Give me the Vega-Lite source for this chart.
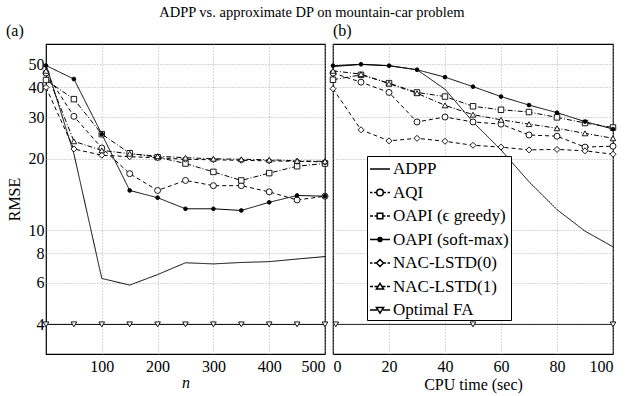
{
  "$schema": "https://vega.github.io/schema/vega-lite/v6.json",
  "padding": {"left": 5, "top": 4, "right": 30, "bottom": 8},
  "background": "white",
  "bounds": "flush",
  "spacing": 8,
  "title": {"text": "ADPP vs. approximate DP on mountain-car problem", "font": "Liberation Serif", "fontSize": 14.5, "fontWeight": "normal", "color": "black", "anchor": "middle", "offset": 2},
  "config": {
    "view": {"stroke": "black", "strokeWidth": 1.2},
    "axis": {"labelFont": "Liberation Serif", "labelFontSize": 16, "labelColor": "black", "titleFont": "Liberation Serif", "titleFontSize": 16, "titleFontWeight": "normal", "titleColor": "black", "grid": true, "gridColor": "#9a9a9a", "gridDash": [1, 2], "gridWidth": 0.8, "ticks": false, "domain": false},
    "legend": {"strokeColor": "black", "fillColor": "white", "padding": 2, "labelFont": "Liberation Serif", "labelFontSize": 17, "labelColor": "black", "labelOffset": 2, "symbolSize": 400, "rowPadding": 4.5}
  },
  "datasets": {
    "a": [
      {"s": "ADPP", "x": 0, "y": 50}, {"s": "ADPP", "x": 50, "y": 21}, {"s": "ADPP", "x": 100, "y": 6.25}, {"s": "ADPP", "x": 150, "y": 5.86}, {"s": "ADPP", "x": 200, "y": 6.49}, {"s": "ADPP", "x": 250, "y": 7.28}, {"s": "ADPP", "x": 300, "y": 7.2}, {"s": "ADPP", "x": 350, "y": 7.3}, {"s": "ADPP", "x": 400, "y": 7.36}, {"s": "ADPP", "x": 450, "y": 7.55}, {"s": "ADPP", "x": 500, "y": 7.73},
      {"s": "AQI", "x": 0, "y": 46}, {"s": "AQI", "x": 50, "y": 30.2}, {"s": "AQI", "x": 100, "y": 22.2}, {"s": "AQI", "x": 150, "y": 17.3}, {"s": "AQI", "x": 200, "y": 14.7}, {"s": "AQI", "x": 250, "y": 16.2}, {"s": "AQI", "x": 300, "y": 15.4}, {"s": "AQI", "x": 350, "y": 15.4}, {"s": "AQI", "x": 400, "y": 14.5}, {"s": "AQI", "x": 450, "y": 13.4}, {"s": "AQI", "x": 500, "y": 13.9},
      {"s": "OAPI (ϵ greedy)", "x": 0, "y": 43}, {"s": "OAPI (ϵ greedy)", "x": 50, "y": 35.7}, {"s": "OAPI (ϵ greedy)", "x": 100, "y": 25.4}, {"s": "OAPI (ϵ greedy)", "x": 150, "y": 21.1}, {"s": "OAPI (ϵ greedy)", "x": 200, "y": 20.3}, {"s": "OAPI (ϵ greedy)", "x": 250, "y": 19.1}, {"s": "OAPI (ϵ greedy)", "x": 300, "y": 17.6}, {"s": "OAPI (ϵ greedy)", "x": 350, "y": 16.2}, {"s": "OAPI (ϵ greedy)", "x": 400, "y": 17.4}, {"s": "OAPI (ϵ greedy)", "x": 450, "y": 18.6}, {"s": "OAPI (ϵ greedy)", "x": 500, "y": 19.1},
      {"s": "OAPI (soft-max)", "x": 0, "y": 49.5}, {"s": "OAPI (soft-max)", "x": 50, "y": 43.4}, {"s": "OAPI (soft-max)", "x": 100, "y": 25.4}, {"s": "OAPI (soft-max)", "x": 150, "y": 14.7}, {"s": "OAPI (soft-max)", "x": 200, "y": 13.7}, {"s": "OAPI (soft-max)", "x": 250, "y": 12.3}, {"s": "OAPI (soft-max)", "x": 300, "y": 12.3}, {"s": "OAPI (soft-max)", "x": 350, "y": 12.1}, {"s": "OAPI (soft-max)", "x": 400, "y": 13.1}, {"s": "OAPI (soft-max)", "x": 450, "y": 14.0}, {"s": "OAPI (soft-max)", "x": 500, "y": 13.9},
      {"s": "NAC-LSTD(0)", "x": 0, "y": 40}, {"s": "NAC-LSTD(0)", "x": 50, "y": 22.0}, {"s": "NAC-LSTD(0)", "x": 100, "y": 20.7}, {"s": "NAC-LSTD(0)", "x": 150, "y": 20.4}, {"s": "NAC-LSTD(0)", "x": 200, "y": 20.2}, {"s": "NAC-LSTD(0)", "x": 250, "y": 19.9}, {"s": "NAC-LSTD(0)", "x": 300, "y": 19.8}, {"s": "NAC-LSTD(0)", "x": 350, "y": 19.7}, {"s": "NAC-LSTD(0)", "x": 400, "y": 19.6}, {"s": "NAC-LSTD(0)", "x": 450, "y": 19.5}, {"s": "NAC-LSTD(0)", "x": 500, "y": 19.4},
      {"s": "NAC-LSTD(1)", "x": 0, "y": 47}, {"s": "NAC-LSTD(1)", "x": 50, "y": 23.7}, {"s": "NAC-LSTD(1)", "x": 100, "y": 21.7}, {"s": "NAC-LSTD(1)", "x": 150, "y": 21.0}, {"s": "NAC-LSTD(1)", "x": 200, "y": 20.5}, {"s": "NAC-LSTD(1)", "x": 250, "y": 20.2}, {"s": "NAC-LSTD(1)", "x": 300, "y": 20.0}, {"s": "NAC-LSTD(1)", "x": 350, "y": 19.9}, {"s": "NAC-LSTD(1)", "x": 400, "y": 19.8}, {"s": "NAC-LSTD(1)", "x": 450, "y": 19.6}, {"s": "NAC-LSTD(1)", "x": 500, "y": 19.5},
      {"s": "Optimal FA", "x": 0, "y": 4}, {"s": "Optimal FA", "x": 50, "y": 4}, {"s": "Optimal FA", "x": 100, "y": 4}, {"s": "Optimal FA", "x": 150, "y": 4}, {"s": "Optimal FA", "x": 200, "y": 4}, {"s": "Optimal FA", "x": 250, "y": 4}, {"s": "Optimal FA", "x": 300, "y": 4}, {"s": "Optimal FA", "x": 350, "y": 4}, {"s": "Optimal FA", "x": 400, "y": 4}, {"s": "Optimal FA", "x": 450, "y": 4}, {"s": "Optimal FA", "x": 500, "y": 4}
    ],
    "b": [
      {"s": "ADPP", "x": 0, "y": 49}, {"s": "ADPP", "x": 10, "y": 50}, {"s": "ADPP", "x": 20, "y": 49.4}, {"s": "ADPP", "x": 30, "y": 47.5}, {"s": "ADPP", "x": 40, "y": 39.3}, {"s": "ADPP", "x": 50, "y": 28.6}, {"s": "ADPP", "x": 60, "y": 21.8}, {"s": "ADPP", "x": 70, "y": 16.0}, {"s": "ADPP", "x": 80, "y": 12.2}, {"s": "ADPP", "x": 90, "y": 9.9}, {"s": "ADPP", "x": 100, "y": 8.5},
      {"s": "AQI", "x": 0, "y": 46}, {"s": "AQI", "x": 10, "y": 42.1}, {"s": "AQI", "x": 20, "y": 38.1}, {"s": "AQI", "x": 30, "y": 28.6}, {"s": "AQI", "x": 40, "y": 30.0}, {"s": "AQI", "x": 50, "y": 28.6}, {"s": "AQI", "x": 60, "y": 28.0}, {"s": "AQI", "x": 70, "y": 25.2}, {"s": "AQI", "x": 80, "y": 24.9}, {"s": "AQI", "x": 90, "y": 22.4}, {"s": "AQI", "x": 100, "y": 22.6},
      {"s": "OAPI (ϵ greedy)", "x": 0, "y": 43.1}, {"s": "OAPI (ϵ greedy)", "x": 10, "y": 45.2}, {"s": "OAPI (ϵ greedy)", "x": 20, "y": 41.7}, {"s": "OAPI (ϵ greedy)", "x": 30, "y": 38.1}, {"s": "OAPI (ϵ greedy)", "x": 40, "y": 36.6}, {"s": "OAPI (ϵ greedy)", "x": 50, "y": 33.3}, {"s": "OAPI (ϵ greedy)", "x": 60, "y": 32.2}, {"s": "OAPI (ϵ greedy)", "x": 70, "y": 31.5}, {"s": "OAPI (ϵ greedy)", "x": 80, "y": 29.9}, {"s": "OAPI (ϵ greedy)", "x": 90, "y": 28.3}, {"s": "OAPI (ϵ greedy)", "x": 100, "y": 27.1},
      {"s": "OAPI (soft-max)", "x": 0, "y": 49.4}, {"s": "OAPI (soft-max)", "x": 10, "y": 50.1}, {"s": "OAPI (soft-max)", "x": 20, "y": 49.4}, {"s": "OAPI (soft-max)", "x": 30, "y": 47.5}, {"s": "OAPI (soft-max)", "x": 40, "y": 44.2}, {"s": "OAPI (soft-max)", "x": 50, "y": 40.3}, {"s": "OAPI (soft-max)", "x": 60, "y": 36.6}, {"s": "OAPI (soft-max)", "x": 70, "y": 33.7}, {"s": "OAPI (soft-max)", "x": 80, "y": 31.3}, {"s": "OAPI (soft-max)", "x": 90, "y": 28.7}, {"s": "OAPI (soft-max)", "x": 100, "y": 26.7},
      {"s": "NAC-LSTD(0)", "x": 0, "y": 39.5}, {"s": "NAC-LSTD(0)", "x": 10, "y": 26.5}, {"s": "NAC-LSTD(0)", "x": 20, "y": 23.8}, {"s": "NAC-LSTD(0)", "x": 30, "y": 24.4}, {"s": "NAC-LSTD(0)", "x": 40, "y": 23.7}, {"s": "NAC-LSTD(0)", "x": 50, "y": 22.8}, {"s": "NAC-LSTD(0)", "x": 60, "y": 22.4}, {"s": "NAC-LSTD(0)", "x": 70, "y": 21.8}, {"s": "NAC-LSTD(0)", "x": 80, "y": 21.9}, {"s": "NAC-LSTD(0)", "x": 90, "y": 21.6}, {"s": "NAC-LSTD(0)", "x": 100, "y": 20.9},
      {"s": "NAC-LSTD(1)", "x": 0, "y": 47}, {"s": "NAC-LSTD(1)", "x": 10, "y": 45.5}, {"s": "NAC-LSTD(1)", "x": 20, "y": 41.5}, {"s": "NAC-LSTD(1)", "x": 30, "y": 37.8}, {"s": "NAC-LSTD(1)", "x": 40, "y": 33.6}, {"s": "NAC-LSTD(1)", "x": 50, "y": 30.7}, {"s": "NAC-LSTD(1)", "x": 60, "y": 29.2}, {"s": "NAC-LSTD(1)", "x": 70, "y": 28.0}, {"s": "NAC-LSTD(1)", "x": 80, "y": 26.9}, {"s": "NAC-LSTD(1)", "x": 90, "y": 25.6}, {"s": "NAC-LSTD(1)", "x": 100, "y": 24.4},
      {"s": "Optimal FA", "x": 1, "y": 4}, {"s": "Optimal FA", "x": 50, "y": 4}, {"s": "Optimal FA", "x": 100, "y": 4}
    ]
  },
  "resolve": {"scale": {"x": "independent", "y": "shared", "shape": "independent"}, "legend": {"shape": "independent"}},
  "hconcat": [
    {
      "width": 279, "height": 310,
      "title": {"text": "(a)", "font": "Liberation Serif", "fontSize": 16, "fontWeight": "normal", "color": "black", "anchor": "start", "frame": "bounds", "offset": 5},
      "data": {"name": "a"},
      "encoding": {
        "x": {"field": "x", "type": "quantitative", "scale": {"domain": [0, 500], "nice": false}, "axis": {"values": [100, 200, 300, 400, 500], "title": "n", "titleFontStyle": "italic", "titlePadding": 0, "labelPadding": 4}},
        "y": {"field": "y", "type": "quantitative", "scale": {"type": "log", "domain": [3, 61], "nice": false}, "axis": {"values": [4, 6, 8, 10, 20, 30, 40, 50], "title": "RMSE", "titlePadding": 6, "labelPadding": 2}}
      },
      "layer": [
        {
          "mark": {"type": "line", "color": "black", "strokeWidth": 1},
          "encoding": {
            "strokeDash": {"field": "s", "type": "nominal", "legend": null, "scale": {"domain": ["ADPP", "AQI", "OAPI (ϵ greedy)", "OAPI (soft-max)", "NAC-LSTD(0)", "NAC-LSTD(1)", "Optimal FA"], "range": [[1, 0], [4, 3], [5, 2, 1, 2], [1, 0], [4, 3], [5, 2, 1, 2], [1, 0]]}}
          }
        },
        {"transform": [{"filter": "datum.s === 'AQI'"}], "mark": {"type": "point", "shape": "circle", "filled": true, "fill": "white", "stroke": "black", "strokeWidth": 0.9, "size": 36, "opacity": 1}, "encoding": {}},
        {"transform": [{"filter": "datum.s === 'OAPI (ϵ greedy)'"}], "mark": {"type": "point", "shape": "square", "filled": true, "fill": "white", "stroke": "black", "strokeWidth": 0.9, "size": 30, "opacity": 1}, "encoding": {}},
        {"transform": [{"filter": "datum.s === 'OAPI (soft-max)'"}], "mark": {"type": "point", "shape": "circle", "filled": true, "fill": "black", "stroke": "black", "strokeWidth": 0.9, "size": 14, "opacity": 1}, "encoding": {}},
        {"transform": [{"filter": "datum.s === 'NAC-LSTD(0)'"}], "mark": {"type": "point", "shape": "diamond", "filled": true, "fill": "white", "stroke": "black", "strokeWidth": 0.9, "size": 36, "opacity": 1}, "encoding": {}},
        {"transform": [{"filter": "datum.s === 'NAC-LSTD(1)'"}], "mark": {"type": "point", "shape": "triangle-up", "filled": true, "fill": "white", "stroke": "black", "strokeWidth": 0.9, "size": 32, "opacity": 1}, "encoding": {}},
        {"transform": [{"filter": "datum.s === 'Optimal FA'"}], "mark": {"type": "point", "shape": "triangle-down", "filled": true, "fill": "white", "stroke": "black", "strokeWidth": 0.9, "size": 32, "opacity": 1}, "encoding": {}}
      ]
    },
    {
      "width": 280, "height": 310,
      "title": {"text": "(b)", "font": "Liberation Serif", "fontSize": 16, "fontWeight": "normal", "color": "black", "anchor": "start", "frame": "group", "offset": 5},
      "data": {"name": "b"},
      "encoding": {
        "x": {"field": "x", "type": "quantitative", "scale": {"domain": [0, 100], "nice": false}, "axis": {"values": [0, 20, 40, 60, 80, 100], "title": "CPU time (sec)", "titlePadding": 2, "labelPadding": 4}},
        "y": {"field": "y", "type": "quantitative", "axis": {"values": [4, 6, 8, 10, 20, 30, 40, 50], "labels": false, "title": null}}
      },
      "layer": [
        {
          "mark": {"type": "line", "color": "black", "strokeWidth": 1},
          "encoding": {
            "strokeDash": {"field": "s", "type": "nominal", "legend": null, "scale": {"domain": ["ADPP", "AQI", "OAPI (ϵ greedy)", "OAPI (soft-max)", "NAC-LSTD(0)", "NAC-LSTD(1)", "Optimal FA"], "range": [[1, 0], [4, 3], [5, 2, 1, 2], [1, 0], [4, 3], [5, 2, 1, 2], [1, 0]]}}
          }
        },
        {"transform": [{"filter": "datum.s === 'AQI'"}], "mark": {"type": "point", "shape": "circle", "filled": true, "fill": "white", "stroke": "black", "strokeWidth": 0.9, "size": 36, "opacity": 1}, "encoding": {}},
        {"transform": [{"filter": "datum.s === 'OAPI (ϵ greedy)'"}], "mark": {"type": "point", "shape": "square", "filled": true, "fill": "white", "stroke": "black", "strokeWidth": 0.9, "size": 30, "opacity": 1}, "encoding": {}},
        {"transform": [{"filter": "datum.s === 'OAPI (soft-max)'"}], "mark": {"type": "point", "shape": "circle", "filled": true, "fill": "black", "stroke": "black", "strokeWidth": 0.9, "size": 14, "opacity": 1}, "encoding": {}},
        {"transform": [{"filter": "datum.s === 'NAC-LSTD(0)'"}], "mark": {"type": "point", "shape": "diamond", "filled": true, "fill": "white", "stroke": "black", "strokeWidth": 0.9, "size": 36, "opacity": 1}, "encoding": {}},
        {"transform": [{"filter": "datum.s === 'NAC-LSTD(1)'"}], "mark": {"type": "point", "shape": "triangle-up", "filled": true, "fill": "white", "stroke": "black", "strokeWidth": 0.9, "size": 32, "opacity": 1}, "encoding": {}},
        {"transform": [{"filter": "datum.s === 'Optimal FA'"}], "mark": {"type": "point", "shape": "triangle-down", "filled": true, "fill": "white", "stroke": "black", "strokeWidth": 0.9, "size": 32, "opacity": 1}, "encoding": {}},
        {
          "transform": [{"filter": "datum.x < 0"}],
          "mark": {"type": "point", "filled": false, "color": "black", "strokeWidth": 1, "opacity": 1},
          "encoding": {
            "shape": {"field": "s", "type": "nominal", "title": null,
              "legend": {"orient": "bottom-left", "offset": 34},
              "scale": {"domain": ["ADPP", "AQI", "OAPI (ϵ greedy)", "OAPI (soft-max)", "NAC-LSTD(0)", "NAC-LSTD(1)", "Optimal FA"],
                "range": [
                  "M-1,0L1,0",
                  "M-1,0L-0.75,0M-0.6,0L-0.33,0M0.33,0L0.6,0M0.75,0L1,0M-0.33,0A0.33,0.33,0,1,0,0.33,0A0.33,0.33,0,1,0,-0.33,0Z",
                  "M-1,0L-0.7,0M-0.55,0L-0.28,0M0.28,0L0.55,0M0.7,0L1,0M-0.28,-0.28L0.28,-0.28L0.28,0.28L-0.28,0.28Z",
                  "M-1,0L-0.2,0M0.2,0L1,0M-0.2,0A0.2,0.2,0,1,0,0.2,0A0.2,0.2,0,1,0,-0.2,0ZM-0.12,0A0.12,0.12,0,1,0,0.12,0A0.12,0.12,0,1,0,-0.12,0ZM-0.05,0A0.05,0.05,0,1,0,0.05,0A0.05,0.05,0,1,0,-0.05,0Z",
                  "M-1,0L-0.75,0M-0.6,0L-0.35,0M0.35,0L0.6,0M0.75,0L1,0M-0.35,0L0,-0.35L0.35,0L0,0.35Z",
                  "M-1,0L-0.7,0M-0.55,0L-0.22,0M0.22,0L0.55,0M0.7,0L1,0M0,-0.32L0.36,0.25L-0.36,0.25Z",
                  "M-1,0L-0.3,0M0.3,0L1,0M0,0.32L0.36,-0.25L-0.36,-0.25Z"
                ]}
            }
          }
        }
      ]
    }
  ]
}
